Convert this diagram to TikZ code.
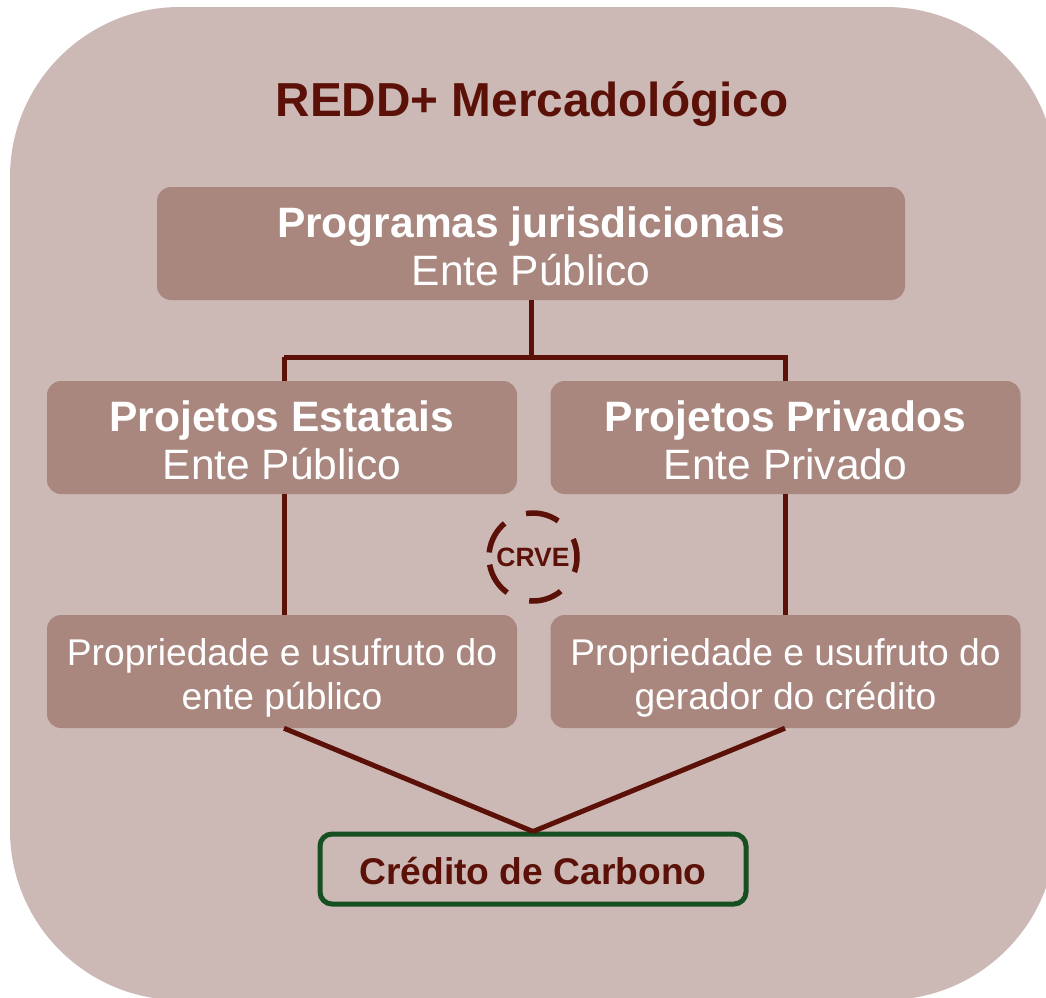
\documentclass[tikz,border=0pt]{standalone}
\usepackage{fontspec}
\setmainfont{Liberation Sans}
\definecolor{bgc}{HTML}{CCB9B6}
\definecolor{boxc}{HTML}{A9877F}
\definecolor{dred}{HTML}{5B1108}
\definecolor{dgreen}{HTML}{175020}
\tikzset{
  tbox/.style={fill=boxc, rounded corners=14pt, minimum height=113pt, inner sep=0pt},
  btxt/.style={inner sep=0pt, align=center, text=white, font=\fontsize{42.5}{48.5}\selectfont},
  ptxt/.style={inner sep=0pt, align=center, text=white, font=\fontsize{37.2}{44}\selectfont},
  conn/.style={draw=dred, line width=5pt},
  ring/.style={draw=dred, line width=5.5pt, dash pattern=on 33.8pt off 23.8pt},
}
\begin{document}
\begin{tikzpicture}[x=1pt,y=-1pt]
\useasboundingbox (0,0) rectangle (1046,997);
\clip (0,0) rectangle (1046,997);
\fill[bgc, rounded corners=170pt] (10,7) rectangle (1056,1000);

\node[text=dred, font=\fontsize{47.7}{54}\selectfont\bfseries] (title) at (532,104) {REDD+ Mercadológico};

\node[tbox, minimum width=748pt] (prog) at (531,243.5) {};
\node[btxt] (progt) at ([yshift=-3pt]prog.center) {{\bfseries Programas jurisdicionais}\\Ente Público};
\node[tbox, minimum width=470pt] (est) at (282,437.5) {};
\node[btxt] (estt) at ([yshift=-3pt]est.center) {{\bfseries Projetos Estatais}\\Ente Público};
\node[tbox, minimum width=470pt] (priv) at (785.5,437.5) {};
\node[btxt] (privt) at ([yshift=-3pt]priv.center) {{\bfseries Projetos Privados}\\Ente Privado};
\node[tbox, minimum width=470pt] (propL) at (282,671.5) {};
\node[ptxt] (propLt) at ([yshift=-6pt]propL.center) {Propriedade e usufruto do\\ente público};
\node[tbox, minimum width=470pt] (propR) at (785.5,671.5) {};
\node[ptxt] (propRt) at ([yshift=-6pt]propR.center) {Propriedade e usufruto do\\gerador do crédito};
\node[draw=dgreen, line width=5pt, rounded corners=12pt, minimum width=426pt, minimum height=70pt, inner sep=0pt] (cred) at (533,869) {};
\node[inner sep=0pt, text=dred, font=\fontsize{37.2}{44}\selectfont\bfseries] (credt) at ([yshift=-2pt]cred.center) {Crédito de Carbono};

\coordinate (j) at (531,357);
\draw[conn] (prog.south) -- (j);
\draw[conn] (284,357) -| (est.north -| 284,0);
\draw[conn] (284,357) -- (785,357) -- (785,381);
\draw[conn] (est.south -| 284,0) -- (propL.north -| 284,0);
\draw[conn] (priv.south -| 785,0) -- (propR.north -| 785,0);
\draw[conn] (propL.south -| 284,0) -- (cred.north);
\draw[conn] (propR.south -| 785,0) -- (cred.north);

\node[circle, minimum size=88pt, inner sep=0pt, text=dred, font=\fontsize{26.5}{30}\selectfont\bfseries] (crve) at (533,557) {CRVE};
\begin{scope}[shift={(crve.center)}, x=1pt, y=1pt]
  \draw[ring] (190:44) arc[start angle=190, delta angle=360, radius=44];
\end{scope}
\end{tikzpicture}
\end{document}
